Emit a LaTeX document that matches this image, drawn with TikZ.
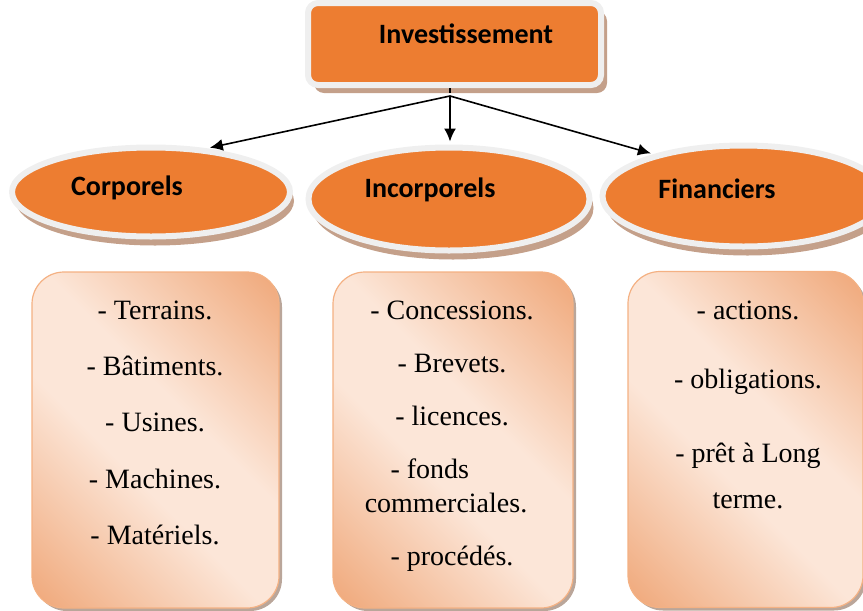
\documentclass[tikz,border=0pt]{standalone}
\usepackage{fontspec}
\setmainfont{Liberation Serif}
\newfontfamily\headfont{Carlito}
\usepackage{tikz}
\usetikzlibrary{positioning}
\usetikzlibrary{shapes.geometric,shadows}
\usetikzlibrary{arrows.meta}
\definecolor{headorange}{RGB}{237,125,49}
\definecolor{rimgray}{RGB}{239,239,239}
\definecolor{shadowtan}{RGB}{196,160,138}
\definecolor{boxdark}{RGB}{240,170,125}
\definecolor{boxlight}{RGB}{252,230,216}
\definecolor{boxline}{RGB}{244,177,131}
\definecolor{boxshadow}{RGB}{186,166,154}
\pgfdeclareverticalshading{peachband}{100bp}{color(0bp)=(boxdark); color(16bp)=(boxdark);
  color(43bp)=(boxlight); color(57bp)=(boxlight); color(84bp)=(boxdark); color(100bp)=(boxdark)}
\tikzset{>={Latex[length=13pt,width=12pt]}}
\tikzset{
  headbox/.style={rectangle, rounded corners=10pt, fill=headorange, draw=rimgray,
    line width=6pt, minimum width=293pt, minimum height=82pt, inner sep=0pt,
    drop shadow={shadow xshift=6pt, shadow yshift=-8pt, fill=shadowtan, opacity=1}},
  kind/.style={ellipse, fill=headorange, draw=rimgray, line width=6pt, inner sep=0pt,
    drop shadow={shadow xshift=4pt, shadow yshift=-9pt, fill=shadowtan, opacity=1}},
  headtxt/.style={anchor=base, font=\headfont\bfseries\fontsize{28}{34}\selectfont},
  listbox/.style={rectangle, rounded corners=32pt, draw=boxline, line width=1.2pt,
    shading=peachband, shading angle=-45,
    minimum width=240pt, minimum height=336pt, inner sep=0pt,
    drop shadow={shadow xshift=3pt, shadow yshift=-3pt, fill=boxshadow, opacity=1}},
  entry/.style={anchor=base, font=\fontsize{28}{34}\selectfont},
  link/.style={line width=1.6pt, shorten >=3pt}
}

\begin{document}
\begin{tikzpicture}[x=1pt,y=-1pt]
\useasboundingbox (0,0) rectangle (863,611);

% Top box
\node[headbox] (inv) at (454.5,44) {};
\node[headtxt] (invtxt) at (466,43) {Investissement};

% Ellipses
\node[kind, minimum width=278pt, minimum height=89pt] (corp) at (151,192) {};
\node[kind, minimum width=281pt, minimum height=103pt] (incorp) at (449,199) {};
\node[kind, minimum width=282pt, minimum height=101pt] (fin) at (743.5,196) {};
\node[headtxt] (corptxt) at (127,195) {Corporels};
\node[headtxt] (incorptxt) at (430,197) {Incorporels};
\node[headtxt] (fintxt) at (717,198) {Financiers};

% Arrows
\coordinate (jn) at (450,96);
\draw[link] (inv.south -| jn) -- (jn);
\draw[link,->] (jn) -- (corp.38);
\draw[link,->] (jn) -- (incorp.north -| jn);
\draw[link,->] (jn) -- (fin.155);

% Lists
\node[listbox, minimum width=247pt] (corplist) at (155.5,440) {};
\node[listbox] (incorplist) at (453,440) {};
\node[listbox, minimum width=235pt] (finlist) at (745.5,439.5) {};

\node[entry] (terrains) at (155,319) {- Terrains.};
\node[entry] (batiments) at (155,375) {- Bâtiments.};
\node[entry] (usines) at (155,431) {- Usines.};
\node[entry] (machines) at (155,488) {- Machines.};
\node[entry] (materiels) at (155,544) {- Matériels.};

\node[entry] (concessions) at (452,319) {- Concessions.};
\node[entry] (brevets) at (452,372) {- Brevets.};
\node[entry] (licences) at (452,425) {- licences.};
\node[entry, anchor=base west] (fonds) at (387,478) {- fonds};
\node[entry] (commerciales) at (446,512) {commerciales.};
\node[entry] (procedes) at (452,565) {- procédés.};

\node[entry] (actions) at (748,319) {- actions.};
\node[entry] (obligations) at (748,388) {- obligations.};
\node[entry] (pret) at (748,462) {- prêt à Long};
\node[entry] (terme) at (748,508) {terme.};
\end{tikzpicture}
\end{document}
